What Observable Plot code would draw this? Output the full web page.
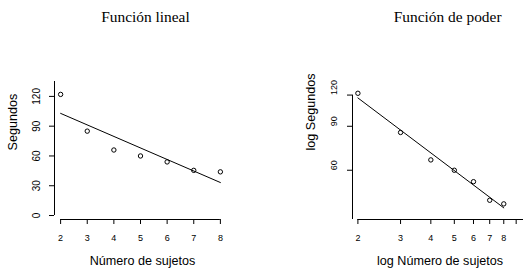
<!DOCTYPE html>
<html><head><meta charset="utf-8">
<script src="https://cdn.jsdelivr.net/npm/d3@7"></script>
<script src="https://cdn.jsdelivr.net/npm/@observablehq/plot@0.6"></script>
<style>
html,body{margin:0;padding:0;background:#fff;}
#wrap{position:relative;width:528px;height:272px;background:#fff;}
#wrap svg{position:absolute;top:0;}
</style></head><body><div id="wrap"></div>
<script>
// ---- data ----
const titles = ["Función lineal", "Función de poder"];
const xLabels = ["Número de sujetos", "log Número de sujetos"];
const yLabels = ["Segundos", "log Segundos"];
const sujetos = [2, 3, 4, 5, 6, 7, 8];
const segundos = [122, 85, 66, 60, 54, 45.5, 44];
const linXTicks = [2, 3, 4, 5, 6, 7, 8];
const linYTicks = [0, 30, 60, 90, 120];
const logXTicks = [2, 3, 4, 5, 6, 7, 8, 9];
const logXTickLabels = [2, 3, 4, 5, 6, 7, 8];
const logYTicks = [60, 90, 120];
const xDomLin = [1.77, 8.23];
const yDomLin = [-4, 135];
const xDomLog = [1.90, 9.65];
const yDomLog = [38.1, 136];

const data = sujetos.map((x, i) => ({x, y: segundos[i]}));

// power fit (linear fit in log-log space)
const lx = sujetos.map(Math.log), ly = segundos.map(Math.log);
const mx = d3.mean(lx), my = d3.mean(ly);
const b = d3.sum(lx, (v, i) => (v - mx) * (ly[i] - my)) / d3.sum(lx, v => (v - mx) ** 2);
const a = my - b * mx;
const fitPow = d3.extent(sujetos).map(x => ({x, y: Math.exp(a + b * Math.log(x))}));

const sans = "'Liberation Sans', Arial, sans-serif";
const serif = "'Liberation Serif', 'Times New Roman', serif";
const style = {fontFamily: sans, fontSize: "9px", background: "transparent", color: "black", overflow: "visible"};

const left = Plot.plot({
  width: 264, height: 272,
  marginLeft: 54, marginRight: 38, marginTop: 81, marginBottom: 53,
  style,
  x: {type: "linear", domain: xDomLin},
  y: {type: "linear", domain: yDomLin},
  marks: [
    Plot.ruleY([yDomLin[0]], {x1: d3.min(linXTicks), x2: d3.max(linXTicks), stroke: "black"}),
    Plot.ruleX([xDomLin[0]], {y1: d3.min(linYTicks), y2: yDomLin[1], stroke: "black"}),
    Plot.axisX(linXTicks, {tickSize: 5, tickPadding: 10, fontSize: 9, label: null}),
    Plot.axisY(linYTicks, {tickSize: 5, tickPadding: 10, tickRotate: -90, fontSize: 10, label: null}),
    Plot.linearRegressionY(data, {x: "x", y: "y", ci: 0, stroke: "black", strokeWidth: 1}),
    Plot.dot(data, {x: "x", y: "y", r: 2.2, stroke: "black", strokeWidth: 1, fill: "none"}),
    Plot.text([xLabels[0]], {text: d => d, frameAnchor: "bottom", lineAnchor: "bottom", dy: 45, dx: 2, fontSize: 12.6}),
    Plot.text([yLabels[0]], {text: d => d, frameAnchor: "left", rotate: -90, lineAnchor: "bottom", dx: -38, fontSize: 12.6}),
    Plot.text([titles[0]], {text: d => d, frameAnchor: "top-left", textAnchor: "start", lineAnchor: "bottom", dx: 46.7, dy: -60, fontSize: 15.4, fontFamily: serif})
  ]
});

const right = Plot.plot({
  width: 264, height: 272,
  marginLeft: 88, marginRight: 5, marginTop: 81, marginBottom: 53,
  style,
  x: {type: "log", domain: xDomLog},
  y: {type: "log", domain: yDomLog},
  marks: [
    Plot.ruleY([yDomLog[0]], {x1: d3.min(logXTicks), x2: xDomLog[1], stroke: "black"}),
    Plot.ruleX([xDomLog[0]], {y1: yDomLog[0], y2: d3.max(logYTicks), stroke: "black"}),
    Plot.axisX(logXTicks, {tickSize: 5, label: null, tickFormat: () => ""}),
    Plot.axisY(logYTicks, {tickSize: 5, label: null, tickFormat: () => ""}),
    Plot.text(logXTickLabels, {x: d => d, text: d => String(d), frameAnchor: "bottom", lineAnchor: "top", dy: 15, fontSize: 9}),
    Plot.text(logYTicks, {y: d => d, text: d => String(d), frameAnchor: "left", rotate: -90, lineAnchor: "bottom", dx: -15.5, fontSize: 9}),
    Plot.line(fitPow, {x: "x", y: "y", stroke: "black", strokeWidth: 1}),
    Plot.dot(data, {x: "x", y: "y", r: 2.2, stroke: "black", strokeWidth: 1, fill: "none"}),
    Plot.text([xLabels[1]], {text: d => d, frameAnchor: "bottom", lineAnchor: "bottom", dy: 45, dx: 2, fontSize: 12.6}),
    Plot.text([yLabels[1]], {text: d => d, frameAnchor: "left", rotate: -90, lineAnchor: "bottom", dx: -38, fontSize: 12.6}),
    Plot.text([titles[1]], {text: d => d, frameAnchor: "top-left", textAnchor: "start", lineAnchor: "bottom", dx: 41.3, dy: -60, fontSize: 15.4, fontFamily: serif})
  ]
});

left.style.left = "0px";
right.style.left = "264px";
const wrap = document.getElementById("wrap");
wrap.appendChild(left);
wrap.appendChild(right);
</script></body></html>
